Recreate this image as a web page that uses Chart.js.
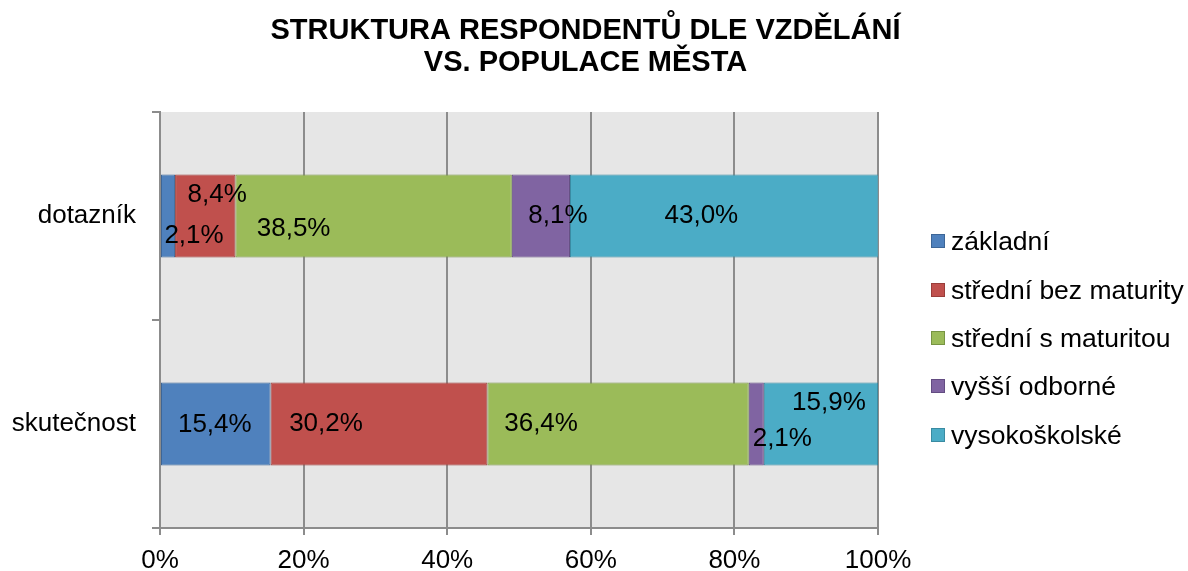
<!DOCTYPE html>
<html lang="cs">
<head>
<meta charset="utf-8">
<title>Struktura respondentů dle vzdělání</title>
<script src="https://cdn.jsdelivr.net/npm/chart.js@4.4.1/dist/chart.umd.min.js"></script>
<style>
  html, body { margin: 0; padding: 0; background: #fff; }
  #wrap { width: 1188px; height: 571px; }
</style>
</head>
<body>
<div id="wrap"><canvas id="vzdelani" width="1188" height="571"></canvas></div>
<script>
// skupiny na ose y
const skupiny = ["dotazník", "skutečnost"];
const vzdelani = ["základní", "střední bez maturity", "střední s maturitou", "vyšší odborné", "vysokoškolské"];

// podíly v % : [dotazník, skutečnost]
const zakladni = [2.1, 15.4];
const stredniBez = [8.4, 30.2];
const stredniS = [38.5, 36.4];
const vyssiOdb = [8.1, 2.1];
const vysokoskolske = [43.0, 15.9];

const osaXTicks = [0, 20, 40, 60, 80, 100];

// vzhled
const barvy = ['#4F81BD', '#C0504D', '#9BBB59', '#8064A2', '#4BACC6'];
const okraje = ['#3D6697', '#9A3D3A', '#779443', '#634C82', '#3A8BA2'];
// posun popisků od středu úseku (px) jako v excelu: [dx, dy]
const posunPopisku = [
  [[26, 20], [-1, 1]],
  [[12, -21], [-53, 0]],
  [[-80, 13], [-77, 0]],
  [[17, 0], [26, 15]],
  [[-23, 0], [8, -21]]
];

const pismo = '"Liberation Sans", Arial, sans-serif';
const seda = '#8c8c8c';
Chart.defaults.font.family = pismo;

const hodnoty = [zakladni, stredniBez, stredniS, vyssiOdb, vysokoskolske];

const pozadiPlochy = {
  id: 'pozadiPlochy',
  beforeDraw(chart) {
    const { ctx, chartArea: a } = chart;
    ctx.save();
    ctx.fillStyle = '#e6e6e6';
    ctx.fillRect(a.left, a.top, a.right - a.left, a.bottom - a.top);
    ctx.restore();
  }
};

const popisky = {
  id: 'popisky',
  afterDatasetsDraw(chart) {
    const ctx = chart.ctx;
    ctx.save();
    ctx.font = '26px ' + pismo;
    ctx.fillStyle = '#000';
    ctx.textAlign = 'center';
    ctx.textBaseline = 'middle';
    chart.data.datasets.forEach((ds, i) => {
      chart.getDatasetMeta(i).data.forEach((bar, j) => {
        const [dx, dy] = posunPopisku[i][j];
        const txt = ds.data[j].toFixed(1).replace('.', ',') + '%';
        ctx.fillText(txt, (bar.x + bar.base) / 2 + dx, bar.y + dy);
      });
    });
    ctx.restore();
  }
};

// legenda vpravo (box blíž k textu než u vestavěné legendy)
const legenda = {
  id: 'legenda',
  afterDraw(chart) {
    const { ctx, chartArea: a } = chart;
    const sets = chart.data.datasets;
    const krok = 48.3, box = 14;
    const x = a.right + 53;
    const stred = (a.top + a.bottom) / 2 + 18;
    ctx.save();
    ctx.font = '26.5px ' + pismo;
    ctx.textAlign = 'left';
    ctx.textBaseline = 'middle';
    sets.forEach((ds, i) => {
      const y = Math.round(stred + (i - (sets.length - 1) / 2) * krok);
      ctx.fillStyle = ds.backgroundColor;
      ctx.fillRect(x, y - box / 2, box, box);
      ctx.strokeStyle = ds.borderColor;
      ctx.lineWidth = 1;
      ctx.strokeRect(x + 0.5, y - box / 2 + 0.5, box - 1, box - 1);
      ctx.fillStyle = '#000';
      ctx.fillText(ds.label, x + box + 6, y + 2);
    });
    ctx.restore();
  }
};

const datasets = vzdelani.map((nazev, i) => ({
  label: nazev,
  data: hodnoty[i],
  backgroundColor: barvy[i],
  borderColor: okraje[i],
  borderWidth: 1,
  borderSkipped: false,
  categoryPercentage: 1,
  barPercentage: 0.4
}));

const graf = new Chart(document.getElementById('vzdelani'), {
  type: 'bar',
  data: { labels: skupiny, datasets: datasets },
  options: {
    indexAxis: 'y',
    responsive: false,
    animation: false,
    layout: { padding: { left: 0, right: 17, top: 0, bottom: 0 } },
    plugins: {
      legend: { display: false },
      tooltip: { enabled: false },
      title: {
        display: true,
        text: ['STRUKTURA RESPONDENTŮ DLE VZDĚLÁNÍ', 'VS. POPULACE MĚSTA'],
        color: '#000',
        font: { size: 29, weight: 'bold', lineHeight: 32 / 29 },
        padding: { top: 15, bottom: 33 }
      }
    },
    scales: {
      x: {
        stacked: true,
        min: 0,
        max: 100,
        afterBuildTicks(s) { s.ticks = osaXTicks.map(v => ({ value: v })); },
        ticks: { callback: v => v + '%', color: '#000', font: { size: 26 }, padding: 10, maxRotation: 0 },
        grid: { color: seda, lineWidth: 2, tickLength: 7 },
        border: { color: seda, width: 2 },
        afterFit(s) { s.height = 43; }
      },
      y: {
        stacked: true,
        grid: { drawOnChartArea: false, offset: true, tickLength: 8, color: seda, lineWidth: 2 },
        border: { color: seda, width: 2 },
        ticks: { color: '#000', font: { size: 26 }, padding: 16 },
        afterFit(s) { s.width = 160; }
      },
      yR: {
        type: 'category',
        position: 'right',
        grid: { display: false },
        ticks: { display: false },
        border: { display: false },
        afterFit(s) { s.width = 293; }
      }
    }
  },
  plugins: [pozadiPlochy, popisky, legenda]
});
</script>
</body>
</html>
